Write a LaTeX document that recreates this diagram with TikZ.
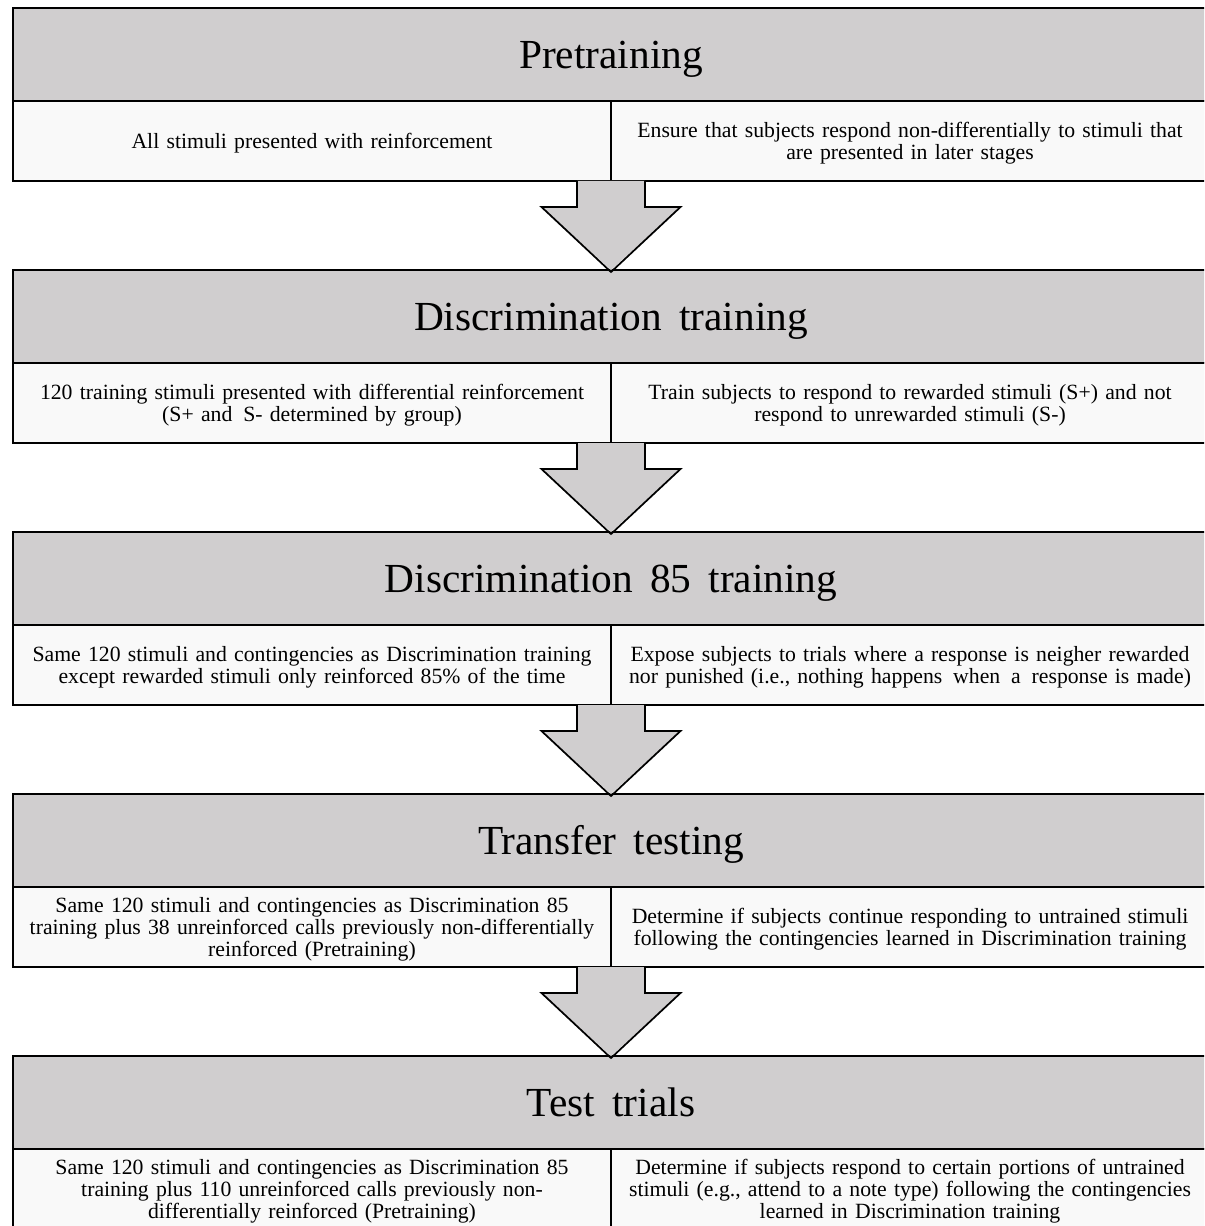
\documentclass[tikz,border=0pt]{standalone}
\usepackage{fontspec}
\setmainfont{Liberation Serif}
\usetikzlibrary{calc}
\definecolor{hdr}{RGB}{208,206,207}
\definecolor{cnt}{RGB}{249,249,249}
\begin{document}
\begin{tikzpicture}[x=0.75pt,y=-0.75pt,
  hdrbox/.style={draw=black,line width=1.6pt,fill=hdr,anchor=north west,
    minimum width=897pt,minimum height=69.75pt,inner sep=0pt,outer sep=0pt,
    text height=21.5pt,text depth=0pt,
    font=\fontsize{31pt}{31pt}\selectfont},
  cntbox/.style={draw=black,line width=1.5pt,fill=cnt,anchor=north west,
    minimum width=448.5pt,minimum height=60pt,inner sep=0pt,outer sep=0pt,
    text width=446pt,align=center,
    execute at begin node={\rule{0pt}{15pt}},
    font={\fontsize{16.3pt}{16.6pt}\selectfont\spaceskip=0.15em plus 0.1em minus 0.05em\relax\hyphenpenalty=10000\relax}},
  blockarrow/.style={fill=hdr,draw=black,line width=1.3pt,line join=miter}]
\useasboundingbox (0,0) rectangle (1204,1226);
\begin{scope}
\clip (0,0) rectangle (1204,1226);
% stage 1
\node[hdrbox] (h1) at (13,8) {Pretraining};
\node[cntbox] (l1) at (13,101) {All stimuli presented with reinforcement};
\node[cntbox] (r1) at (611,101) {Ensure that subjects respond non-differentially to stimuli that\\are presented in later stages};
% stage 2
\node[hdrbox] (h2) at (13,270) {Discrimination\, training};
\node[cntbox] (l2) at (13,363) {120 training stimuli presented with differential reinforcement\\(S+ and\, S- determined by group)};
\node[cntbox] (r2) at (611,363) {Train subjects to respond to rewarded stimuli (S+) and not\\respond to unrewarded stimuli (S-)};
% stage 3
\node[hdrbox] (h3) at (13,532) {Discrimination\, 85\, training};
\node[cntbox] (l3) at (13,625) {Same 120 stimuli and contingencies as Discrimination training\\except rewarded stimuli only reinforced 85\% of the time};
\node[cntbox] (r3) at (611,625) {Expose subjects to trials where a response is neigher rewarded\\nor punished (i.e., nothing happens\, when\, a\, response is made)};
% stage 4
\node[hdrbox] (h4) at (13,794) {Transfer\, testing};
\node[cntbox] (l4) at (13,887) {Same 120 stimuli and contingencies as Discrimination 85\\training plus 38 unreinforced calls previously non-differentially\\reinforced (Pretraining)};
\node[cntbox] (r4) at (611,887) {Determine if subjects continue responding to untrained stimuli\\following the contingencies learned in Discrimination training};
% stage 5
\node[hdrbox] (h5) at (13,1056) {Test\, trials};
\node[cntbox] (l5) at (13,1149) {Same 120 stimuli and contingencies as Discrimination 85\\training plus 110 unreinforced calls previously non-\\differentially reinforced (Pretraining)};
\node[cntbox] (r5) at (611,1149) {Determine if subjects respond to certain portions of untrained\\stimuli (e.g., attend to a note type) following the contingencies\\learned in Discrimination training};
% block arrows
\foreach \a/\b in {l1/h2,l2/h3,l3/h4,l4/h5}{
  \begin{scope}[shift={(\a.south east)}]
    \fill[hdr] (-34,0) -- (-34,26) -- (-69.5,26) -- (\b.north) -- (69.5,26) -- (34,26) -- (34,0) -- cycle;
    \draw[blockarrow,fill=none] (-34,0) -- (-34,26) -- (-69.5,26) -- ($(\b.north)+(0,2)$) -- (69.5,26) -- (34,26) -- (34,0);
  \end{scope}
}
\end{scope}
\end{tikzpicture}
\end{document}
